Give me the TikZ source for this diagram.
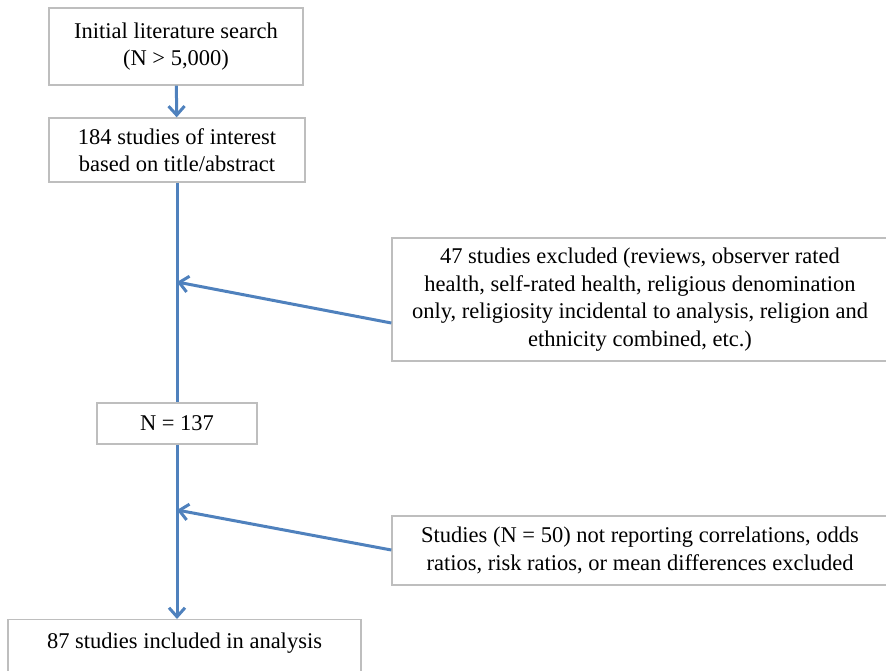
\documentclass[tikz,border=0pt]{standalone}
\usepackage{fontspec}
\setmainfont{Liberation Serif}
\usetikzlibrary{arrows.meta}
\definecolor{flowblue}{RGB}{79,129,189}
\definecolor{boxgray}{RGB}{190,190,190}
\tikzset{
  box/.style={draw=boxgray, line width=1.3pt, fill=white, align=center,
    inner sep=0pt, font=\fontsize{22.5}{27.5}\selectfont},
  flow/.style={draw=flowblue, line width=3pt},
  flowarrow/.style={flow, -{Straight Barb[length=9pt,width=16pt]}}
}

\begin{document}
\begin{tikzpicture}[x=1pt,y=-1pt]
\useasboundingbox (0,0) rectangle (886,670);
% main column
\node[box, minimum width=254pt, minimum height=77pt] (search) at (176,46.5)
  {Initial literature search\\(N > 5,000)};
\node[box, minimum width=256pt, minimum height=64pt] (interest) at (177,150)
  {184 studies of interest\\based on title/abstract};
\node[box, minimum width=160pt, minimum height=41pt] (n137) at (177,423.5)
  {N = 137};
\node[box, minimum width=353pt, text height=29pt, text depth=27pt, anchor=north]
  (included) at (184.5,619) {87 studies included in analysis};
% exclusion boxes
\node[box, minimum width=496pt, minimum height=123pt] (excl1) at (640,299.5)
  {47 studies excluded (reviews, observer rated\\health, self-rated health, religious denomination\\only, religiosity incidental to analysis, religion and\\ethnicity combined, etc.)};
\node[box, minimum width=496pt, minimum height=69pt] (excl2) at (640,550.5)
  {Studies (N = 50) not reporting correlations, odds\\ratios, risk ratios, or mean differences excluded};
% joins on the vertical line
\coordinate (join1) at (177,282);
\coordinate (join2) at (177,510);
\coordinate (from1) at (excl1.west |- 0,323);
\coordinate (from2) at (excl2.west |- 0,550);
% connectors
\draw[flowarrow] (search) -- (interest);
\draw[flow] (interest) -- (n137);
\draw[flowarrow] (from1) -- (join1);
\draw[flowarrow] (n137.south) -- (n137.south |- included.north);
\draw[flowarrow] (from2) -- (join2);
\end{tikzpicture}
\end{document}
